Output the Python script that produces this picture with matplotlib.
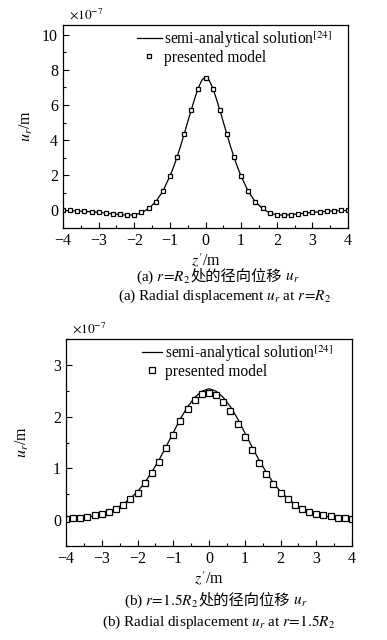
import matplotlib
matplotlib.use('Agg')
import matplotlib.pyplot as plt
from matplotlib.ticker import MultipleLocator
from matplotlib.offsetbox import TextArea, HPacker, AnnotationBbox

plt.rcParams['font.family'] = ['Liberation Serif', 'Noto Sans CJK SC']
plt.rcParams['mathtext.fontset'] = 'stix'

# 数据 (单位 1e-7 m)
z_pts = [-4.0, -3.8, -3.6, -3.4, -3.2, -3.0, -2.8, -2.6, -2.4, -2.2, -2.0,
         -1.8, -1.6, -1.4, -1.2, -1.0, -0.8, -0.6, -0.4, -0.2, 0.0,
         0.2, 0.4, 0.6, 0.8, 1.0, 1.2, 1.4, 1.6, 1.8, 2.0,
         2.2, 2.4, 2.6, 2.8, 3.0, 3.2, 3.4, 3.6, 3.8, 4.0]

# (a) r=R2
ua_model = [0.00, 0.00, -0.02, -0.05, -0.07, -0.09, -0.13, -0.19, -0.22, -0.26, -0.24,
            -0.11, 0.11, 0.49, 1.08, 1.95, 3.03, 4.34, 5.70, 6.93, 7.52,
            6.93, 5.70, 4.34, 3.03, 1.95, 1.08, 0.49, 0.11, -0.13, -0.25,
            -0.27, -0.25, -0.21, -0.15, -0.09, -0.08, -0.06, -0.03, 0.00, 0.00]
za_line = [-4.0, -3.6, -3.2, -2.8, -2.4, -2.2, -2.0, -1.8, -1.6, -1.4, -1.2, -1.0,
           -0.9, -0.8, -0.7, -0.6, -0.5, -0.4, -0.3, -0.2, -0.1, 0.0,
           0.1, 0.2, 0.3, 0.4, 0.5, 0.6, 0.7, 0.8, 0.9,
           1.0, 1.2, 1.4, 1.6, 1.8, 2.0, 2.2, 2.4, 2.8, 3.2, 3.6, 4.0]
ua_line = [0.00, -0.03, -0.08, -0.15, -0.24, -0.27, -0.25, -0.14, 0.10, 0.49, 1.08, 1.95,
           2.45, 3.03, 3.66, 4.34, 5.03, 5.72, 6.38, 6.98, 7.42, 7.60,
           7.42, 6.98, 6.38, 5.72, 5.03, 4.34, 3.66, 3.03, 2.45,
           1.95, 1.08, 0.49, 0.10, -0.14, -0.25, -0.27, -0.24, -0.15, -0.08, -0.03, 0.00]

# (b) r=1.5R2
ub_model = [0.03, 0.04, 0.05, 0.065, 0.09, 0.11, 0.155, 0.21, 0.29, 0.40, 0.53,
            0.71, 0.91, 1.13, 1.39, 1.65, 1.92, 2.14, 2.33, 2.44, 2.46,
            2.42, 2.29, 2.10, 1.86, 1.61, 1.36, 1.10, 0.89, 0.69, 0.52,
            0.40, 0.29, 0.21, 0.155, 0.12, 0.10, 0.08, 0.05, 0.045, 0.03]
ub_line = [0.02, 0.03, 0.04, 0.06, 0.08, 0.11, 0.16, 0.22, 0.31, 0.42, 0.55,
           0.72, 0.93, 1.16, 1.42, 1.69, 1.96, 2.19, 2.37, 2.49, 2.54,
           2.49, 2.37, 2.19, 1.96, 1.69, 1.42, 1.16, 0.93, 0.72, 0.55,
           0.42, 0.31, 0.22, 0.16, 0.11, 0.08, 0.06, 0.04, 0.03, 0.02]

fig = plt.figure(figsize=(3.87, 6.4), dpi=100)
W, H = 387.0, 640.0


def fpos(l, t, r, b):
    return [l / W, 1 - b / H, (r - l) / W, (b - t) / H]


def style_axes(ax, ylim, ymajor, yminor, ylab_x):
    ax.set_xlim(-4, 4)
    ax.set_ylim(*ylim)
    ax.xaxis.set_major_locator(MultipleLocator(1))
    ax.xaxis.set_minor_locator(MultipleLocator(0.5))
    ax.yaxis.set_major_locator(MultipleLocator(ymajor))
    ax.yaxis.set_minor_locator(MultipleLocator(yminor))
    ax.tick_params(which='both', direction='in', top=False, right=False, labelsize=11.5)
    ax.tick_params(which='major', length=4, width=0.8)
    ax.tick_params(which='minor', length=2.5, width=0.8)
    for s in ax.spines.values():
        s.set_linewidth(0.9)
    ax.set_xlabel("$z'$/m", fontsize=11.5, labelpad=2)
    ax.set_ylabel("$u_r$/m", fontsize=11.5)
    ax.yaxis.set_label_coords(ylab_x, 0.5)
    ax.text(0.02, 1.015, r'$\times10^{-7}$', transform=ax.transAxes, fontsize=9.5, va='bottom')


def caption(x_px, y_px, parts):
    boxes = []
    for s, fam in parts:
        boxes.append(TextArea(s, textprops=dict(fontsize=11, family=fam)))
    pack = HPacker(children=boxes, align='baseline', pad=0, sep=0)
    ab = AnnotationBbox(pack, (x_px / W, 1 - y_px / H), xycoords='figure fraction',
                        frameon=False, box_alignment=(0.5, 0.5))
    fig.add_artist(ab)


ax1 = fig.add_axes(fpos(63, 25, 348, 228))
ax1.plot(za_line, ua_line, color='black', lw=0.9, label='semi-analytical solution$^{\\mathrm{[24]}}$')
ax1.plot(z_pts, ua_model, ls='none', marker='s', ms=3.3, mfc='white', mec='black', mew=0.9,
         label='presented model')
style_axes(ax1, (-1, 10.55), 2, 1, -0.10)
ax1.legend(loc='upper left', bbox_to_anchor=(0.237, 1.01), frameon=False, fontsize=11.2,
           handlelength=1.6, handletextpad=0.15, labelspacing=0.0, numpoints=1, borderaxespad=0)

ax2 = fig.add_axes(fpos(66, 339, 352, 546))
ax2.plot(z_pts, ub_line, color='black', lw=0.9, label='semi-analytical solution$^{\\mathrm{[24]}}$')
ax2.plot(z_pts, ub_model, ls='none', marker='s', ms=4.0, mfc='white', mec='black', mew=0.9,
         label='presented model')
style_axes(ax2, (-0.5, 3.5), 1, 0.5, -0.123)
ax2.legend(loc='upper left', bbox_to_anchor=(0.243, 1.01), frameon=False, fontsize=11.2,
           handlelength=1.3, handletextpad=0.2, labelspacing=0.0, numpoints=1, borderaxespad=0)

cn = ['Liberation Serif']
zh = ['Noto Sans CJK SC']
caption(218, 277, [('(a) $r\\!=\\!R_2$ ', cn), ('处的径向位移', zh), (' $u_r$', cn)])
caption(225, 296, [('(a) Radial displacement $u_r$ at $r\\!=\\!R_2$', cn)])
caption(216, 601, [('(b) $r\\!=\\!1.5R_2$ ', cn), ('处的径向位移', zh), (' $u_r$', cn)])
caption(219, 622, [('(b) Radial displacement $u_r$ at $r\\!=\\!1.5R_2$', cn)])

fig.savefig('out.png', dpi=100)
